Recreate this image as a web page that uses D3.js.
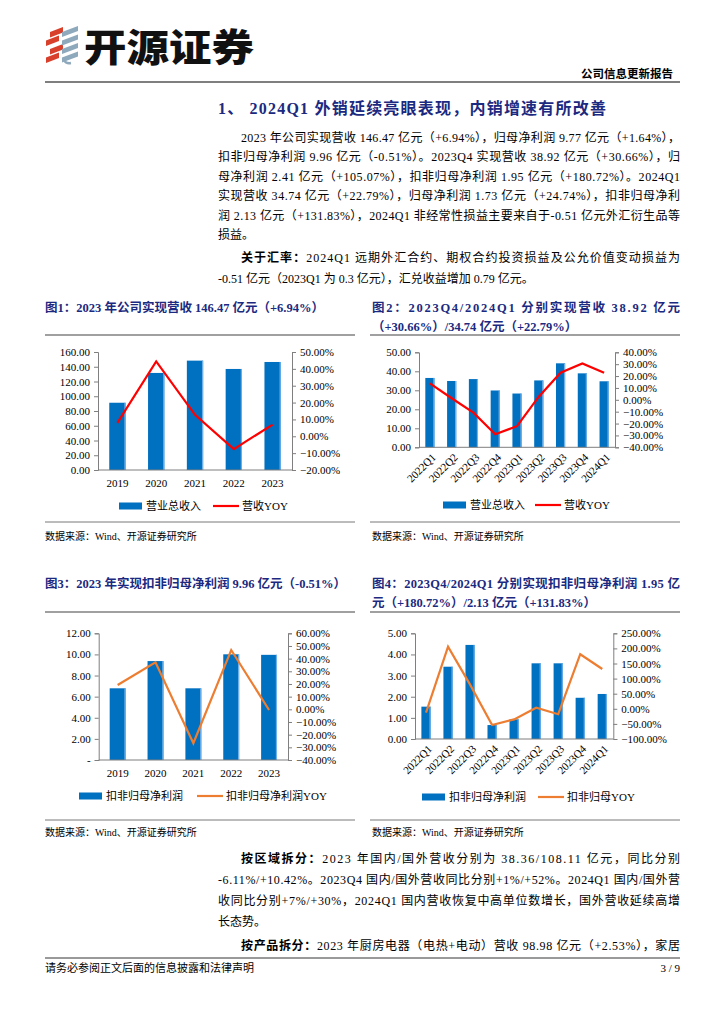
<!DOCTYPE html>
<html><head><meta charset="utf-8">
<script src="https://cdn.jsdelivr.net/npm/d3@7"></script>
<style>
body{margin:0;background:#fff;}
svg{display:block;}
</style></head>
<body>
<script>
// ---------- DATA ----------
const years = ["2019","2020","2021","2022","2023"];
const revenue = [91.2, 131.6, 148.3, 137.0, 146.47];
const revenueYoy = [8.0, 44.4, 12.7, -7.6, 6.94];

const quarters = ["2022Q1","2022Q2","2022Q3","2022Q4","2023Q1","2023Q2","2023Q3","2023Q4","2024Q1"];
const qRevenue = [36.5, 34.9, 35.9, 29.9, 28.3, 35.2, 44.2, 38.92, 34.74];
const qRevenueYoy = [13.8, 1.3, -10.8, -29.0, -22.2, 2.6, 22.8, 30.66, 22.79];

const deductedProfit = [6.79, 9.37, 6.79, 10.01, 9.96];
const deductedProfitYoy = [19.2, 37.1, -26.8, 46.8, -0.51];

const qDeductedProfit = [1.53, 3.42, 4.45, 0.66, 0.93, 3.58, 3.58, 1.95, 2.13];
const qDeductedProfitYoy = [-12.8, 205.6, 80, -53.6, -35, 3.7, -18, 180.72, 131.83];

const ticks1L = [0,20,40,60,80,100,120,140,160];
const ticks1R = [-20,-10,0,10,20,30,40,50];
const ticks2L = [0,10,20,30,40,50];
const ticks2R = [-40,-30,-20,-10,0,10,20,30,40];
const ticks3L = [0,2,4,6,8,10,12];
const ticks3R = [-40,-30,-20,-10,0,10,20,30,40,50,60];
const ticks4L = [0,1,2,3,4,5];
const ticks4R = [-100,-50,0,50,100,150,200,250];

const title = "1、 2024Q1 外销延续亮眼表现，内销增速有所改善";
const para1 = [
  "2023 年公司实现营收 146.47 亿元（+6.94%），归母净利润 9.77 亿元（+1.64%），",
  "扣非归母净利润 9.96 亿元（-0.51%）。2023Q4 实现营收 38.92 亿元（+30.66%），归",
  "母净利润 2.41 亿元（+105.07%），扣非归母净利润 1.95 亿元（+180.72%）。2024Q1",
  "实现营收 34.74 亿元（+22.79%），归母净利润 1.73 亿元（+24.74%），扣非归母净利",
  "润 2.13 亿元（+131.83%），2024Q1 非经常性损益主要来自于-0.51 亿元外汇衍生品等",
  "损益。"
];
const para2Lead = "关于汇率：";
const para2 = [
  "2024Q1 远期外汇合约、期权合约投资损益及公允价值变动损益为",
  "-0.51 亿元（2023Q1 为 0.3 亿元），汇兑收益增加 0.79 亿元。"
];
const para3Lead = "按区域拆分：";
const para3 = [
  "2023 年国内/国外营收分别为 38.36/108.11 亿元，同比分别",
  "-6.11%/+10.42%。2023Q4 国内/国外营收同比分别+1%/+52%。2024Q1 国内/国外营",
  "收同比分别+7%/+30%，2024Q1 国内营收恢复中高单位数增长，国外营收延续高增",
  "长态势。"
];
const para4Lead = "按产品拆分：";
const para4 = ["2023 年厨房电器（电热+电动）营收 98.98 亿元（+2.53%），家居"];

const cap1 = ["图1：2023 年公司实现营收 146.47 亿元（+6.94%）"];
const cap2 = ["图2：2023Q4/2024Q1 分别实现营收 38.92 亿元", "（+30.66%）/34.74 亿元（+22.79%）"];
const cap3 = ["图3：2023 年实现扣非归母净利润 9.96 亿元（-0.51%）"];
const cap4 = ["图4：2023Q4/2024Q1 分别实现扣非归母净利润 1.95 亿", "元（+180.72%）/2.13 亿元（+131.83%）"];
const source = "数据来源：Wind、开源证券研究所";
const footer = "请务必参阅正文后面的信息披露和法律声明";
const pageNo = "3 / 9";

// ---------- SETUP ----------
const FONT = "'Liberation Serif','Times New Roman','Noto Sans CJK SC',serif";
const NAVY = "#1B2A80";
const BLUE = "#0070C0";
const svg = d3.select("body").append("svg").attr("width",724).attr("height",1024)
  .style("font-family", FONT);

// ---------- HEADER ----------
const logo = svg.append("g");
// red stripes (zigzag)
[0,1,2,3].forEach(i=>{
  const y = 32 + i*8.5;
  const dx = (i%2===0) ? 4 : 0;
  logo.append("path").attr("d",`M${46+dx},${y} l13,-5 l0,5.5 l-13,5 z`).attr("fill","#D9402B");
});
// grey-blue stripes
[0,1,2,3].forEach(i=>{
  const y = 32 + i*8.5;
  logo.append("path").attr("d",`M62,${y} l16,-6 l0,5 l-16,6 z`).attr("fill","#8FA9BC");
});
logo.append("path").attr("d","M64,60 q2,4 7,3").attr("stroke","#8FA9BC").attr("stroke-width",2.5).attr("fill","none");
svg.append("text").attr("x",84).attr("y",61).text("开源证券")
  .style("font-family","'Noto Sans CJK SC',sans-serif").style("font-weight",900)
  .style("font-size","38px").attr("fill","#111").attr("textLength",170).attr("lengthAdjust","spacingAndGlyphs");
svg.append("text").attr("x",673).attr("y",78).attr("text-anchor","end").text("公司信息更新报告")
  .style("font-family","'Noto Sans CJK SC',sans-serif").style("font-weight",700).style("font-size","11.5px");
svg.append("line").attr("x1",45).attr("x2",680).attr("y1",82).attr("y2",82).attr("stroke","#000").attr("stroke-width",1.2);

svg.append("text").attr("x",218).attr("y",114).text(title).attr("fill",NAVY)
  .style("font-weight","bold").style("font-size","16px").attr("textLength",388).attr("lengthAdjust","spacing");

// ---------- TEXT HELPERS ----------
function textLine(x, y, right, str, justify, lead, size, color, bold){
  const t = svg.append("text").attr("x",x).attr("y",y).style("font-size",(size||12)+"px").attr("fill",color||"#000");
  if (bold) t.style("font-weight","bold");
  if (lead) t.append("tspan").style("font-weight","bold").text(lead);
  t.append("tspan").text(str);
  if (justify) t.attr("textLength", right - x).attr("lengthAdjust","spacing");
  return t;
}
function paragraph(lines, lead, y0, lh){
  lines.forEach((s,i)=>{
    const first = i===0;
    const last = i===lines.length-1;
    textLine(first?241:218, y0 + i*lh, 680, s, !last || lines.length===1 && s.length>20, first?lead:null, 12);
  });
}
paragraph(para1, null, 142, 19.4);
paragraph(para2, para2Lead, 262, 21);
paragraph(para3, para3Lead, 863, 21);
paragraph(para4, para4Lead, 950, 21);

// captions
function caption(lines, x, right, y0){
  lines.forEach((s,i)=>{
    textLine(x, y0 + i*19, right, s, lines.length>1 && i===0, null, 12.5, NAVY, true);
  });
}
caption(cap1, 45, 355, 312);
caption(cap2, 372, 680, 312);
caption(cap3, 45, 355, 588);
caption(cap4, 372, 680, 588);

[[45,355],[370,680]].forEach(([a,b])=>{
  svg.append("line").attr("x1",a).attr("x2",b).attr("y1",335).attr("y2",335).attr("stroke","#808080").attr("stroke-width",1.5);
  svg.append("line").attr("x1",a).attr("x2",b).attr("y1",612).attr("y2",612).attr("stroke","#808080").attr("stroke-width",1.5);
  svg.append("line").attr("x1",a).attr("x2",b).attr("y1",522).attr("y2",522).attr("stroke","#555").attr("stroke-width",0.8);
  svg.append("line").attr("x1",a).attr("x2",b).attr("y1",820).attr("y2",820).attr("stroke","#555").attr("stroke-width",0.8);
  svg.append("text").attr("x",a+(a>300?2:0)).attr("y",540).text(source).style("font-size","10px");
  svg.append("text").attr("x",a+(a>300?2:0)).attr("y",836).text(source).style("font-size","10px");
});

// footer
svg.append("line").attr("x1",45).attr("x2",680).attr("y1",958).attr("y2",958).attr("stroke","#000").attr("stroke-width",0.8);
svg.append("text").attr("x",45).attr("y",972).text(footer).style("font-size","11px");
svg.append("text").attr("x",680).attr("y",972).attr("text-anchor","end").text(pageNo).style("font-size","11px");

// ---------- CHARTS ----------
function chart(c){
  const g = svg.append("g");
  const x = d3.scaleBand().domain(c.cats).range([c.x0, c.x1]).padding(0);
  const yL = d3.scaleLinear().domain(c.lDom).range([c.yB, c.yT]);
  const yR = d3.scaleLinear().domain(c.rDom).range([c.yB, c.yT]);
  const bw = x.bandwidth()*0.42;
  g.selectAll("rect.bar").data(c.bars).join("rect").attr("class","bar")
    .attr("x",(d,i)=>x(c.cats[i]) + x.bandwidth()/2 - bw/2)
    .attr("y",d=>yL(d)).attr("width",bw).attr("height",d=>yL(0)-yL(d)).attr("fill",BLUE);
  g.selectAll("rect.hi").data(c.bars).join("rect").attr("class","hi")
    .attr("x",(d,i)=>x(c.cats[i]) + x.bandwidth()/2 + bw/2 - 1.2)
    .attr("y",d=>yL(d)).attr("width",1.2).attr("height",d=>yL(0)-yL(d)).attr("fill","#6FB0E8");
  const line = d3.line().x((d,i)=>x(c.cats[i])+x.bandwidth()/2).y(d=>yR(d));
  g.append("path").datum(c.line).attr("d",line).attr("fill","none").attr("stroke",c.lineColor).attr("stroke-width",2.2)
    .attr("stroke-linejoin","miter");
  const axL = g.append("g").attr("transform",`translate(${c.x0},0)`)
    .call(d3.axisLeft(yL).tickValues(c.lTicks).tickSize(4).tickPadding(4).tickFormat(c.lFmt));
  const axR = g.append("g").attr("transform",`translate(${c.x1},0)`)
    .call(d3.axisRight(yR).tickValues(c.rTicks).tickSize(4).tickPadding(4).tickFormat(d=>d3.format(".2f")(d)+"%"));
  [axL,axR].forEach(a=>{
    a.select(".domain").attr("stroke","#7f7f7f");
    a.selectAll(".tick line").attr("stroke","#7f7f7f");
    a.selectAll("text").style("font-family",FONT).style("font-size","11px").attr("fill","#000");
  });
  g.append("line").attr("x1",c.x0).attr("x2",c.x1).attr("y1",c.yB).attr("y2",c.yB).attr("stroke","#7f7f7f");
  const labs = g.selectAll("text.xl").data(c.cats).join("text").attr("class","xl")
    .style("font-size","11px").text(d=>d);
  if (c.rotate){
    labs.attr("text-anchor","end")
      .attr("transform",d=>`translate(${x(d)+x.bandwidth()/2+4},${c.yB+8}) rotate(-45)`).attr("dy","0.35em");
  } else {
    labs.attr("text-anchor","middle").attr("x",d=>x(d)+x.bandwidth()/2).attr("y",c.yB+17);
  }
  // legend
  g.append("rect").attr("x",c.lx).attr("y",c.ly-3.5).attr("width",23).attr("height",7).attr("fill",BLUE);
  g.append("text").attr("x",c.lx+27).attr("y",c.ly+4).text(c.n1).style("font-size","11px");
  g.append("line").attr("x1",c.lx2).attr("x2",c.lx2+26).attr("y1",c.ly).attr("y2",c.ly).attr("stroke",c.lineColor).attr("stroke-width",2.2);
  g.append("text").attr("x",c.lx2+29).attr("y",c.ly+4).text(c.n2).style("font-size","11px");
}

chart({cats:years, bars:revenue, line:revenueYoy, x0:98, x1:292, yT:352, yB:470,
  lDom:[0,160], lTicks:ticks1L, lFmt:d3.format(".2f"), rDom:[-20,50], rTicks:ticks1R,
  lineColor:"#FF0000", rotate:false, lx:119, lx2:213, ly:506, n1:"营业总收入", n2:"营收YOY"});
chart({cats:quarters, bars:qRevenue, line:qRevenueYoy, x0:419, x1:615, yT:352.3, yB:447.3,
  lDom:[0,50], lTicks:ticks2L, lFmt:d3.format(".2f"), rDom:[-40,40], rTicks:ticks2R,
  lineColor:"#FF0000", rotate:true, lx:443, lx2:535, ly:505, n1:"营业总收入", n2:"营收YOY"});
chart({cats:years, bars:deductedProfit, line:deductedProfitYoy, x0:98.7, x1:288, yT:633.3, yB:760,
  lDom:[0,12], lTicks:ticks3L, lFmt:d=>d===0?"-":d3.format(".2f")(d), rDom:[-40,60], rTicks:ticks3R,
  lineColor:"#ED7D31", rotate:false, lx:79, lx2:197, ly:796, n1:"扣非归母净利润", n2:"扣非归母净利润YOY"});
chart({cats:quarters, bars:qDeductedProfit, line:qDeductedProfitYoy, x0:415, x1:613.3, yT:633.3, yB:739,
  lDom:[0,5], lTicks:ticks4L, lFmt:d3.format(".2f"), rDom:[-100,250], rTicks:ticks4R,
  lineColor:"#ED7D31", rotate:true, lx:422, lx2:538, ly:797, n1:"扣非归母净利润", n2:"扣非归母YOY"});
</script>
</body></html>
